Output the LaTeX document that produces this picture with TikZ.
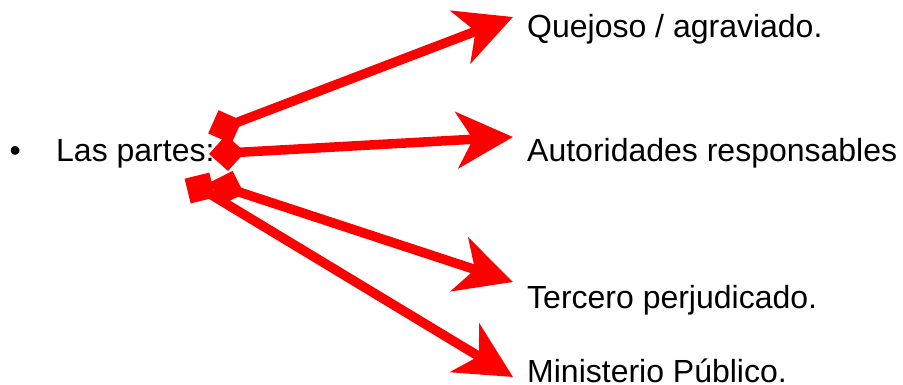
\documentclass[tikz,border=0pt]{standalone}
\usepackage{fontspec}
\setmainfont{Liberation Sans}
\usetikzlibrary{arrows.meta}
\begin{document}
\begin{tikzpicture}[x=1pt,y=-1pt,
  lbl/.style={anchor=base west,inner sep=0pt,font=\fontsize{32}{38}\selectfont},
  bigarrow/.style={draw=red,line width=9.5pt,shorten <=-18pt,
    arrows={{Diamond[length=36pt,width=36pt]}-{Stealth[length=56pt,width=56pt,inset=16pt]}}}]
\useasboundingbox (0,0) rectangle (903,385);
\node[lbl] (bul) at (9.5,162) {•};
\node[lbl] (partes) at (56,162) {Las partes:};
\node[lbl] (q) at (527,38) {Quejoso / agraviado.};
\node[lbl] (a) at (527,162) {Autoridades responsables};
\node[lbl] (t) at (527,308) {Tercero perjudicado.};
\node[lbl] (m) at (527,382.5) {Ministerio Público.};
\coordinate (s1) at (225,127);
\coordinate (s2) at (227,153);
\coordinate (s3) at (227,188);
\coordinate (s4) at (200,188);
\coordinate (e1) at (513,17);
\coordinate (e2) at (513,137);
\coordinate (e3) at (513,282);
\coordinate (e4) at (513,377);
\draw[bigarrow] (s1) -- (e1);
\draw[bigarrow] (s2) -- (e2);
\draw[bigarrow] (s3) -- (e3);
\draw[bigarrow] (s4) -- (e4);
\end{tikzpicture}
\end{document}
